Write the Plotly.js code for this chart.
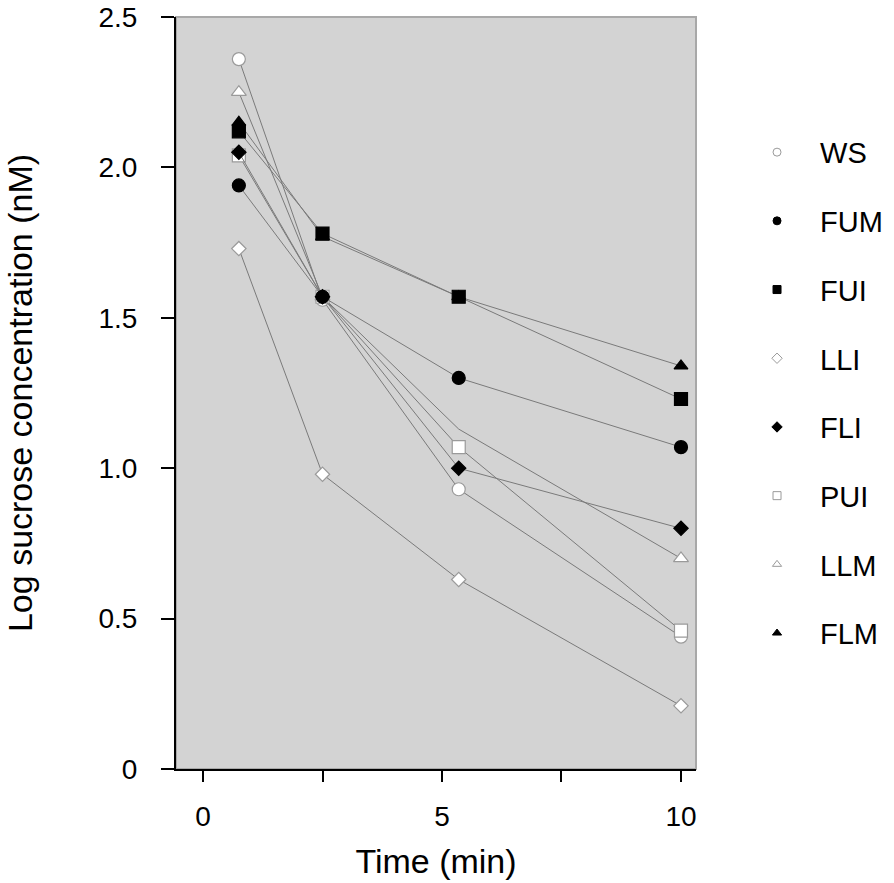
<!DOCTYPE html>
<html>
<head>
<meta charset="utf-8">
<script src="https://cdn.plot.ly/plotly-3.0.1.min.js"></script>
<style>html,body{margin:0;padding:0;background:#fff;}#chart{width:894px;height:883px;}</style>
</head>
<body>
<div id="chart"></div>
<script>
// Time points (min)
var times = [0.75, 2.5, 5.35, 10];

// Log sucrose concentration (nM) per sample
var WS  = [2.36, 1.56, 0.93, 0.44];
var FUM = [1.94, 1.57, 1.30, 1.07];
var FUI = [2.12, 1.78, 1.57, 1.23];
var LLI = [1.73, 0.98, 0.63, 0.21];
var FLI = [2.05, 1.57, 1.00, 0.80];
var PUI = [2.04, 1.57, 1.07, 0.46];
var LLM = [2.25, 1.57, 1.13, 0.70];
var FLM = [2.15, 1.77, 1.57, 1.34];

var legendOrder = ['WS', 'FUM', 'FUI', 'LLI', 'FLI', 'PUI', 'LLM', 'FLM'];
var drawOrder = ['FLM', 'LLM', 'WS', 'PUI', 'FLI', 'LLI', 'FUM', 'FUI'];

var xTickVals = [0, 2.5, 5, 7.5, 10];
var xTickText = ['0', '', '5', '', '10'];
var yTickVals = [0, 0.5, 1.0, 1.5, 2.0, 2.5];
var yTickText = ['0', '0.5', '1.0', '1.5', '2.0', '2.5'];

var series = {WS: WS, FUM: FUM, FUI: FUI, LLI: LLI, FLI: FLI, PUI: PUI, LLM: LLM, FLM: FLM};

var styles = {
  WS:  {symbol: 'circle',       fill: '#ffffff', edge: '#9a9a9a', size: 13},
  FUM: {symbol: 'circle',       fill: '#000000', edge: '#000000', size: 13},
  FUI: {symbol: 'square',       fill: '#000000', edge: '#000000', size: 13},
  LLI: {symbol: 'diamond',      fill: '#ffffff', edge: '#9a9a9a', size: 11},
  FLI: {symbol: 'diamond',      fill: '#000000', edge: '#000000', size: 11},
  PUI: {symbol: 'square',       fill: '#ffffff', edge: '#9a9a9a', size: 13},
  LLM: {symbol: 'triangle-up',  fill: '#ffffff', edge: '#9a9a9a', size: 13},
  FLM: {symbol: 'triangle-up',  fill: '#000000', edge: '#000000', size: 12}
};

var traces = [];
drawOrder.forEach(function (name) {
  var s = styles[name];
  var sizes = times.map(function () { return s.size; });
  if (name === 'LLM') { sizes[2] = 0; } // no marker visible at this point in the original
  traces.push({
    x: times, y: series[name], type: 'scatter', mode: 'lines+markers', name: name,
    showlegend: false, cliponaxis: false,
    line: {color: '#7a7a7a', width: 1},
    marker: {symbol: s.symbol, size: sizes, opacity: 1, color: s.fill, line: {color: s.edge, width: 1.2}}
  });
});
legendOrder.forEach(function (name) {
  var s = styles[name];
  traces.push({
    x: [null], y: [null], type: 'scatter', mode: 'markers', name: name,
    legendgroup: name, showlegend: true,
    marker: {symbol: s.symbol, size: 8, opacity: 1, color: s.fill, line: {color: s.edge, width: 1}}
  });
});

var layout = {
  width: 894, height: 883,
  margin: {l: 176, r: 0, t: 17, b: 114},
  paper_bgcolor: '#ffffff',
  plot_bgcolor: '#d3d3d3',
  font: {family: 'Liberation Sans, Arial, sans-serif', color: '#000000'},
  showlegend: true,
  legend: {
    x: 0.7772, xanchor: 'left', y: 0.854, yanchor: 'top',
    traceorder: 'grouped', tracegroupgap: 28, itemwidth: 76,
    font: {size: 29, color: '#000000'}, bgcolor: 'rgba(0,0,0,0)'
  },
  xaxis: {
    domain: [0, 0.72423],
    range: [-0.565, 10.314], tickvals: xTickVals, ticktext: xTickText,
    ticks: 'outside', ticklen: 11, tickwidth: 2, tickcolor: '#000',
    showline: true, linecolor: '#000', linewidth: 2,
    showgrid: false, zeroline: false,
    tickfont: {size: 28}, ticklabelstandoff: 10,
    title: {text: 'Time (min)', font: {size: 34}, standoff: 19}
  },
  yaxis: {
    range: [0, 2.5], tickvals: yTickVals, ticktext: yTickText,
    ticks: 'outside', ticklen: 13, tickwidth: 2, tickcolor: '#000',
    showline: true, linecolor: '#000', linewidth: 2,
    showgrid: false, zeroline: false,
    tickfont: {size: 28}, ticklabelstandoff: 18,
    title: {text: 'Log sucrose concentration (nM)', font: {size: 34}, standoff: 56}
  },
  shapes: [{
    type: 'rect', xref: 'x domain', yref: 'y domain', x0: 0, x1: 1, y0: 0, y1: 1,
    line: {color: '#a8a8a8', width: 2}, layer: 'below'
  }]
};

Plotly.newPlot('chart', traces, layout, {displayModeBar: false, staticPlot: true});
</script>
</body>
</html>
